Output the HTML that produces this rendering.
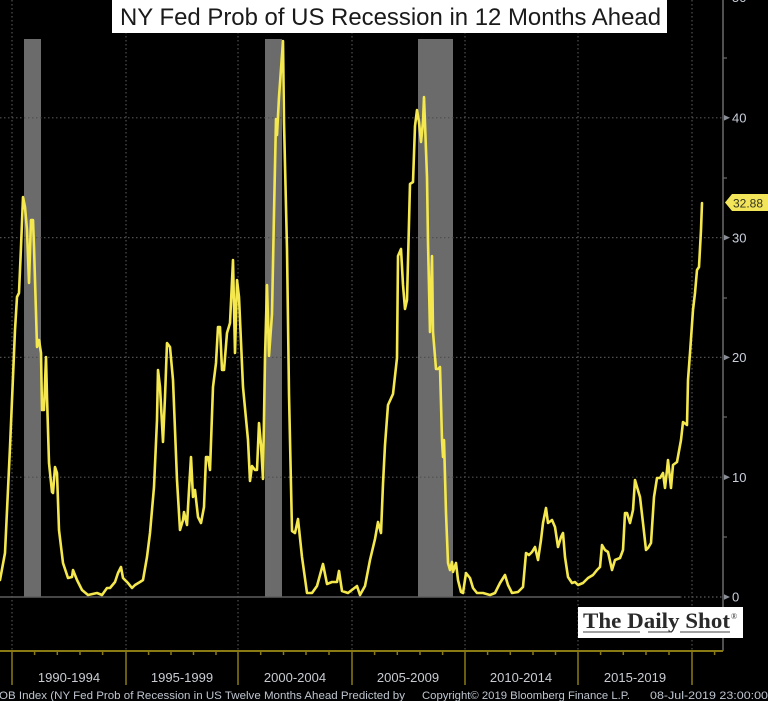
<!DOCTYPE html>
<html><head><meta charset="utf-8"><style>
html,body{margin:0;padding:0;background:#000;width:768px;height:701px;overflow:hidden}
svg{display:block}
</style></head><body>
<svg width="768" height="701" viewBox="0 0 768 701" xmlns="http://www.w3.org/2000/svg" font-family="Liberation Sans, sans-serif">
<rect x="0" y="0" width="768" height="701" fill="#000"/>
<!-- recession bars -->
<rect x="24" y="39" width="17" height="558" fill="#6b6b6b"/>
<rect x="265" y="39" width="17" height="558" fill="#6b6b6b"/>
<rect x="418" y="39" width="35" height="558" fill="#6b6b6b"/>
<!-- horizontal gridlines -->
<g stroke="#505050" stroke-width="1.2" stroke-dasharray="1.5 2.5">
<line x1="0" y1="117.8" x2="723" y2="117.8"/>
<line x1="0" y1="237.6" x2="723" y2="237.6"/>
<line x1="0" y1="357.4" x2="723" y2="357.4"/>
<line x1="0" y1="477.2" x2="723" y2="477.2"/>
</g>
<!-- vertical gridlines -->
<g stroke="#505050" stroke-width="1.2" stroke-dasharray="1.5 2.5">
<line x1="12" y1="0" x2="12" y2="651"/>
<line x1="126" y1="0" x2="126" y2="651"/>
<line x1="238" y1="0" x2="238" y2="651"/>
<line x1="352" y1="0" x2="352" y2="651"/>
<line x1="465" y1="0" x2="465" y2="651"/>
<line x1="578" y1="0" x2="578" y2="651"/>
<line x1="692" y1="0" x2="692" y2="651"/>
</g>
<!-- zero line -->
<line x1="0" y1="597" x2="680" y2="597" stroke="#5e5e5e" stroke-width="1.5"/>
<line x1="680" y1="597" x2="723" y2="597" stroke="#5e5e5e" stroke-width="1.2" stroke-dasharray="1.5 2.5"/>
<!-- data line -->
<polyline fill="none" stroke="#f4e84e" stroke-width="2.6" stroke-linejoin="round" stroke-linecap="round" points="
0,580 5,553 10,447 15,330 17,297 19,293 21,247 23,197 25,207 27,230 29,283 31,220 33,220 34,247 36,313 37,347 39,340 41,353 42,410 44,410 46,357 47,397 49,463 52,492 53,493 55,467 57,473 59,530 63,563 68,578 72,577 73,570 77,580 82,590 88,595 97,593 102,595 107,588 110,588 115,582 118,573 121,567 123,578 128,583 132,588 135,585 140,582 143,580 147,557 150,533 154,487 157,420 158,370 160,387 163,442 165,397 167,343 170,347 173,380 177,480 180,530 183,520 184,512 187,525 189,490 191,457 193,497 195,490 198,517 201,523 204,507 206,457 208,457 210,470 213,387 216,363 218,327 220,327 222,370 224,370 227,333 230,323 233,260 235,353 237,280 239,297 243,387 248,440
250,481 252,466 255,470 257,470 259,423 261,445 263,479 265,358 267,285 269,356 272,314 274,213 276,119 277,135 279,97 283,41 284,122 287,249 289,394 292,531 295,533 298,519 302,557 307,593 312,593 317,586 323,564 327,584 332,582 337,582 339,571 342,591 348,593 357,586 360,595 365,586 370,560 375,539 378,522 381,533 383,484 385,445 388,405 393,394 397,358 398,256 401,249 403,285 405,309 407,300 410,184 413,182 415,126 417,110 419,122 421,142 423,122 424,97 427,177 428,242 430,332 432,256 433,332 436,369 438,369
440,367 442,440 443,457 444,440 446,513 448,563 450,570 452,562 453,572 456,563 458,580 461,592 463,593 466,573 470,578 473,588 477,593 483,593 490,595 495,593 500,583 505,575 508,585 512,593 518,592 523,587 526,553 529,555 532,552 535,547 538,560 541,540 543,523 546,508 548,523 552,520 555,527 558,547 561,537 563,533 565,557 568,577 572,583 575,582 578,585 583,583 588,578 593,575 597,570 600,567 602,545 605,550 608,552 612,570 615,560 620,558 623,550 625,513 627,513 630,523 633,510 635,480 637,487 640,497 643,523 646,550 648,548 651,543 654,497 657,478 660,478 663,473 665,488 667,470 668,460 671,488 673,465 677,462 681,440 683,422 687,425 688,380 690,353 693,310 695,293 697,270 699,267 701,230 702,203"/>
<!-- right axis -->
<line x1="723" y1="0" x2="723" y2="651" stroke="#6a6a6a" stroke-width="1.5"/>
<g stroke="#6a6a6a" stroke-width="1.2">
<line x1="723" y1="58" x2="727" y2="58"/>
<line x1="723" y1="178" x2="727" y2="178"/>
<line x1="723" y1="298" x2="727" y2="298"/>
<line x1="723" y1="417" x2="727" y2="417"/>
<line x1="723" y1="537" x2="727" y2="537"/>
</g>
<g fill="#8a8f98">
<polygon points="724,115 730,117.8 724,120.6"/>
<polygon points="724,234.8 730,237.6 724,240.4"/>
<polygon points="724,354.6 730,357.4 724,360.2"/>
<polygon points="724,474.4 730,477.2 724,480"/>
<polygon points="724,594.2 730,597 724,599.8"/>
</g>
<g fill="#c9d0dc" font-size="13">
<text x="732" y="2">50</text>
<text x="732" y="122.5">40</text>
<text x="732" y="242.3">30</text>
<text x="732" y="362.1">20</text>
<text x="732" y="481.9">10</text>
<text x="732" y="601.7">0</text>
</g>
<!-- last value label -->
<polygon points="725,202.5 732,194 768,194 768,211 732,211" fill="#f2e55a"/>
<text x="733" y="207.5" font-size="12" fill="#333320">32.88</text>
<!-- x axis -->
<line x1="0" y1="651" x2="723" y2="651" stroke="#8a7a14" stroke-width="2"/>
<g stroke="#8a7a14" stroke-width="1.5">
<line x1="12" y1="651" x2="12" y2="685"/>
<line x1="126" y1="651" x2="126" y2="685"/>
<line x1="238" y1="651" x2="238" y2="685"/>
<line x1="352" y1="651" x2="352" y2="685"/>
<line x1="465" y1="651" x2="465" y2="685"/>
<line x1="578" y1="651" x2="578" y2="685"/>
<line x1="692" y1="651" x2="692" y2="685"/>
</g>
<g stroke="#8a7a14" stroke-width="1.5">
<line x1="34.6" y1="651" x2="34.6" y2="655"/><line x1="57.3" y1="651" x2="57.3" y2="655"/><line x1="80" y1="651" x2="80" y2="655"/><line x1="102.6" y1="651" x2="102.6" y2="655"/>
<line x1="148.6" y1="651" x2="148.6" y2="655"/><line x1="171" y1="651" x2="171" y2="655"/><line x1="193.5" y1="651" x2="193.5" y2="655"/><line x1="216" y1="651" x2="216" y2="655"/>
<line x1="260.7" y1="651" x2="260.7" y2="655"/><line x1="283.5" y1="651" x2="283.5" y2="655"/><line x1="306" y1="651" x2="306" y2="655"/><line x1="329" y1="651" x2="329" y2="655"/>
<line x1="374.6" y1="651" x2="374.6" y2="655"/><line x1="397.3" y1="651" x2="397.3" y2="655"/><line x1="420" y1="651" x2="420" y2="655"/><line x1="442.6" y1="651" x2="442.6" y2="655"/>
<line x1="487.6" y1="651" x2="487.6" y2="655"/><line x1="510.3" y1="651" x2="510.3" y2="655"/><line x1="533" y1="651" x2="533" y2="655"/><line x1="555.5" y1="651" x2="555.5" y2="655"/>
<line x1="600.6" y1="651" x2="600.6" y2="655"/><line x1="623.3" y1="651" x2="623.3" y2="655"/><line x1="646" y1="651" x2="646" y2="655"/><line x1="669" y1="651" x2="669" y2="655"/>
<line x1="714.6" y1="651" x2="714.6" y2="655"/>
</g>
<g fill="#c8ccd2" font-size="13" text-anchor="middle">
<text x="69" y="682">1990-1994</text>
<text x="182" y="682">1995-1999</text>
<text x="295" y="682">2000-2004</text>
<text x="408" y="682">2005-2009</text>
<text x="521" y="682">2010-2014</text>
<text x="635" y="682">2015-2019</text>
</g>
<g fill="#bfc6d0" font-size="11">
<text x="-1" y="699" textLength="406" lengthAdjust="spacingAndGlyphs">OB Index (NY Fed Prob of Recession in US Twelve Months Ahead Predicted by</text>
<text x="422" y="699" textLength="208" lengthAdjust="spacingAndGlyphs">Copyright© 2019 Bloomberg Finance L.P.</text>
<text x="650" y="699" textLength="118" lengthAdjust="spacingAndGlyphs">08-Jul-2019 23:00:00</text>
</g>
<!-- title -->
<rect x="112" y="0" width="555" height="33" fill="#fff"/>
<text x="120" y="25" font-size="24" fill="#1a1a1a" textLength="541" lengthAdjust="spacingAndGlyphs">NY Fed Prob of US Recession in 12 Months Ahead</text>
<!-- daily shot -->
<rect x="578" y="607" width="165" height="31" fill="#fff"/>
<text x="583" y="628" font-family="Liberation Serif, serif" font-size="22" font-weight="bold" fill="#2a2a2a" textLength="147" lengthAdjust="spacingAndGlyphs">The Daily Shot</text>
<text x="731" y="619" font-family="Liberation Serif, serif" font-size="8" fill="#2a2a2a">®</text>
<g stroke="#444" stroke-width="1">
<line x1="583" y1="632" x2="640" y2="632"/>
<line x1="648" y1="632" x2="672" y2="632"/>
<line x1="680" y1="632" x2="730" y2="632"/>
</g>
</svg>
</body></html>
